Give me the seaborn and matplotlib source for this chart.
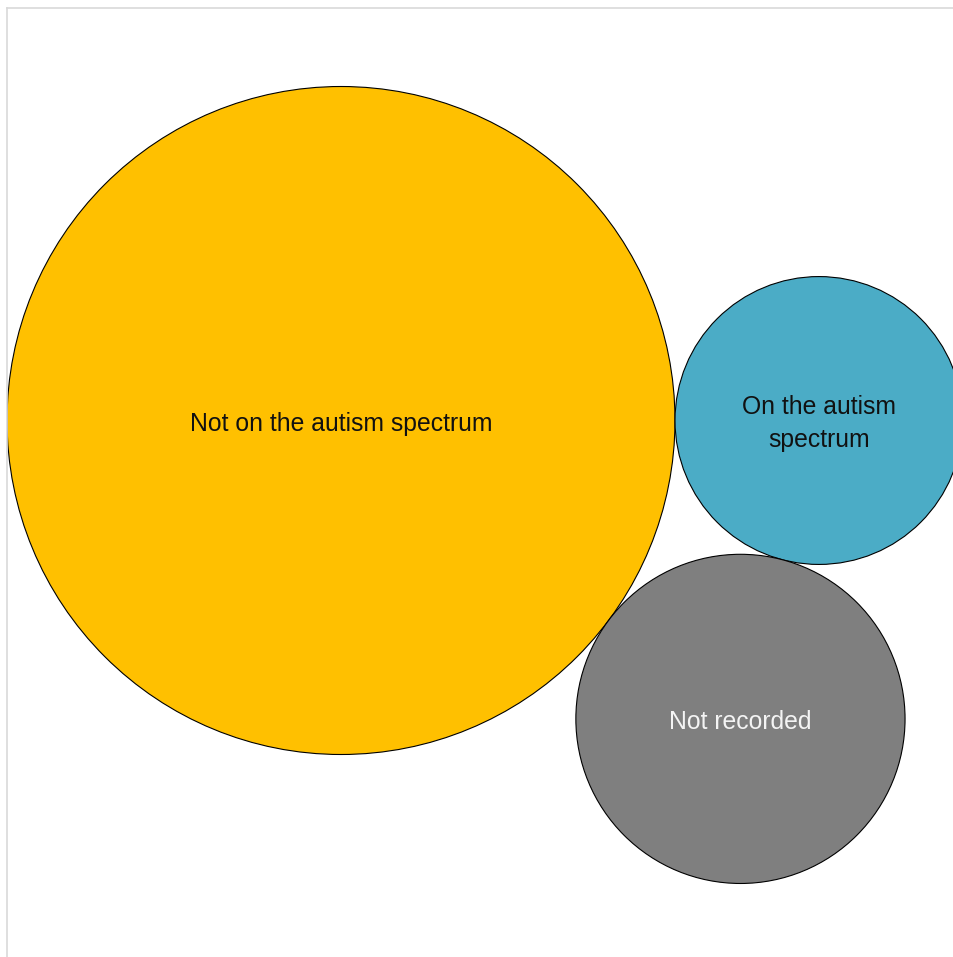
import numpy as np
import pandas as pd
import seaborn as sns
import matplotlib.pyplot as plt

# Data
categories = ["Not on the autism spectrum", "On the autism spectrum", "Not recorded"]
values = [70, 13, 17]
labels = ["Not on the autism spectrum", "On the autism\nspectrum", "Not recorded"]

# Styling
colors = ["#FFC000", "#4BACC6", "#7F7F7F"]
label_colors = ["#111111", "#111111", "#F4F4F4"]

DPI = 100
W, H = 954, 957

sns.set_theme(style="white")
plt.rcParams["font.family"] = ["Liberation Sans", "DejaVu Sans"]

fig = plt.figure(figsize=(W / DPI, H / DPI), dpi=DPI)
fig.patch.set_facecolor("white")
# axes in pixel units, leaving a thin frame at the top and left
ax = fig.add_axes([7 / W, 0, (W - 7) / W, (H - 8) / H])
ax.set_xlim(7, W)
ax.set_ylim(H, 8)

# bubble radii proportional to sqrt(value)
px_per_unit = 334 / np.sqrt(max(values))
r = px_per_unit * np.sqrt(np.array(values, dtype=float))

# pack: largest at left, second tangent on its right, third tangent to both below
c1 = np.array([7 + r[0], 420.5])
c2 = np.array([c1[0] + r[0] + r[1], c1[1]])
d13, d23, d12 = r[0] + r[2], r[1] + r[2], r[0] + r[1]
a = (d13 ** 2 - d23 ** 2 + d12 ** 2) / (2 * d12)
h = np.sqrt(d13 ** 2 - a ** 2)
c3 = np.array([c1[0] + a, c1[1] + h])
centers = np.vstack([c1, c2, c3])

df = pd.DataFrame({
    "category": categories,
    "value": values,
    "x": centers[:, 0],
    "y": centers[:, 1],
})
marker_area = (2 * r * 72 / DPI) ** 2

sns.scatterplot(
    data=df, x="x", y="y",
    hue="category", palette=dict(zip(categories, colors)),
    size="category", sizes=dict(zip(categories, marker_area)),
    edgecolor="black", linewidth=0.8, alpha=1,
    legend=False, ax=ax,
)

for (x, y), lab, col in zip(centers, labels, label_colors):
    ax.text(x, y + 3, lab, ha="center", va="center", fontsize=17.8,
            color=col, linespacing=1.45)

ax.set(xticks=[], yticks=[], xlabel="", ylabel="")
for side in ["right", "bottom"]:
    ax.spines[side].set_visible(False)
for side in ["top", "left"]:
    ax.spines[side].set_visible(True)
    ax.spines[side].set_color("#D9D9D9")
    ax.spines[side].set_linewidth(1.2)

fig.savefig("out.png", dpi=DPI)
